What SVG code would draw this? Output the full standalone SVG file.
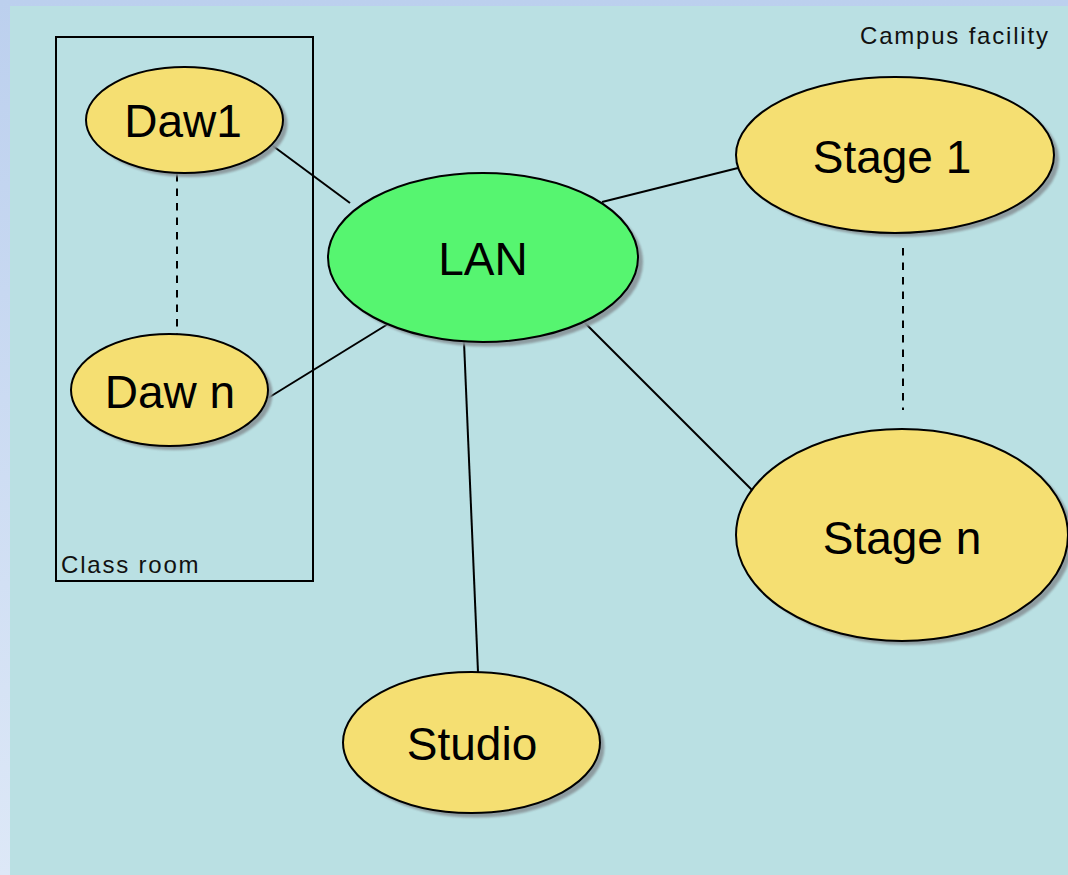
<svg xmlns="http://www.w3.org/2000/svg" width="1068" height="875" viewBox="0 0 1068 875">
  <defs>
    <linearGradient id="frame" x1="0" y1="0" x2="0" y2="1">
      <stop offset="0" stop-color="#bcd0ee"/>
      <stop offset="1" stop-color="#dde8f7"/>
    </linearGradient>
    <filter id="soft" x="-10%" y="-10%" width="120%" height="120%">
      <feGaussianBlur stdDeviation="0.8"/>
    </filter>
    <style>
      .node { stroke: #000; stroke-width: 2; }
      .leaf { fill: #f5df72; }
      .hub { fill: #56f570; }
      .shadow { fill: #89959a; opacity: 0.9; filter: url(#soft); }
      .label { font-family: "Liberation Sans", Arial, sans-serif; font-size: 46px; fill: #000; text-anchor: middle; }
      .caption { font-family: "Liberation Sans", Arial, sans-serif; font-size: 24px; letter-spacing: 1.8px; fill: #111; }
      .link { stroke: #000; stroke-width: 2; fill: none; }
      .dash { stroke-dasharray: 7.5 7; }
    </style>
  </defs>

  <!-- page background -->
  <rect x="0" y="0" width="1068" height="875" fill="url(#frame)"/>
  <rect x="10" y="6" width="1058" height="869" fill="#bae0e3"/>

  <text class="caption" x="860" y="44">Campus facility</text>

  <!-- class room boundary -->
  <g id="classroom">
    <rect x="56" y="37" width="257" height="544" fill="none" stroke="#000" stroke-width="2"/>
    <text class="caption" x="61" y="573">Class room</text>
  </g>

  <!-- connectors -->
  <g id="connectors">
    <line class="link" x1="273" y1="146" x2="350" y2="203"/>
    <line class="link" x1="268" y1="398" x2="388" y2="324"/>
    <line class="link" x1="602" y1="202" x2="738" y2="168"/>
    <line class="link" x1="585" y1="323" x2="752" y2="490"/>
    <line class="link" x1="464" y1="342" x2="478" y2="672"/>
    <line class="link dash" x1="177" y1="174" x2="177" y2="334"/>
    <line class="link dash" x1="903" y1="248" x2="903" y2="410"/>
  </g>

  <g id="daw1">
    <ellipse class="shadow" cx="189" cy="124" rx="98.5" ry="53"/>
    <ellipse class="node leaf" cx="184.5" cy="120" rx="98.5" ry="53"/>
    <text class="label" x="183" y="137">Daw1</text>
  </g>

  <g id="dawn">
    <ellipse class="shadow" cx="174" cy="394" rx="98.5" ry="56"/>
    <ellipse class="node leaf" cx="169.5" cy="390" rx="98.5" ry="56"/>
    <text class="label" x="170" y="408">Daw n</text>
  </g>

  <g id="lan">
    <ellipse class="shadow" cx="488" cy="262" rx="155" ry="84.5"/>
    <ellipse class="node hub" cx="483" cy="257.5" rx="155" ry="84.5"/>
    <text class="label" x="483" y="275">LAN</text>
  </g>

  <g id="stage1">
    <ellipse class="shadow" cx="900" cy="159" rx="159" ry="78"/>
    <ellipse class="node leaf" cx="895" cy="155" rx="159" ry="78"/>
    <text class="label" x="892" y="173">Stage 1</text>
  </g>

  <g id="stagen">
    <ellipse class="shadow" cx="907" cy="539" rx="166" ry="106"/>
    <ellipse class="node leaf" cx="902" cy="535" rx="166" ry="106"/>
    <text class="label" x="902" y="554">Stage n</text>
  </g>

  <g id="studio">
    <ellipse class="shadow" cx="476" cy="747" rx="128.5" ry="70.5"/>
    <ellipse class="node leaf" cx="471.5" cy="742.5" rx="128.5" ry="70.5"/>
    <text class="label" x="472" y="760">Studio</text>
  </g>
</svg>
